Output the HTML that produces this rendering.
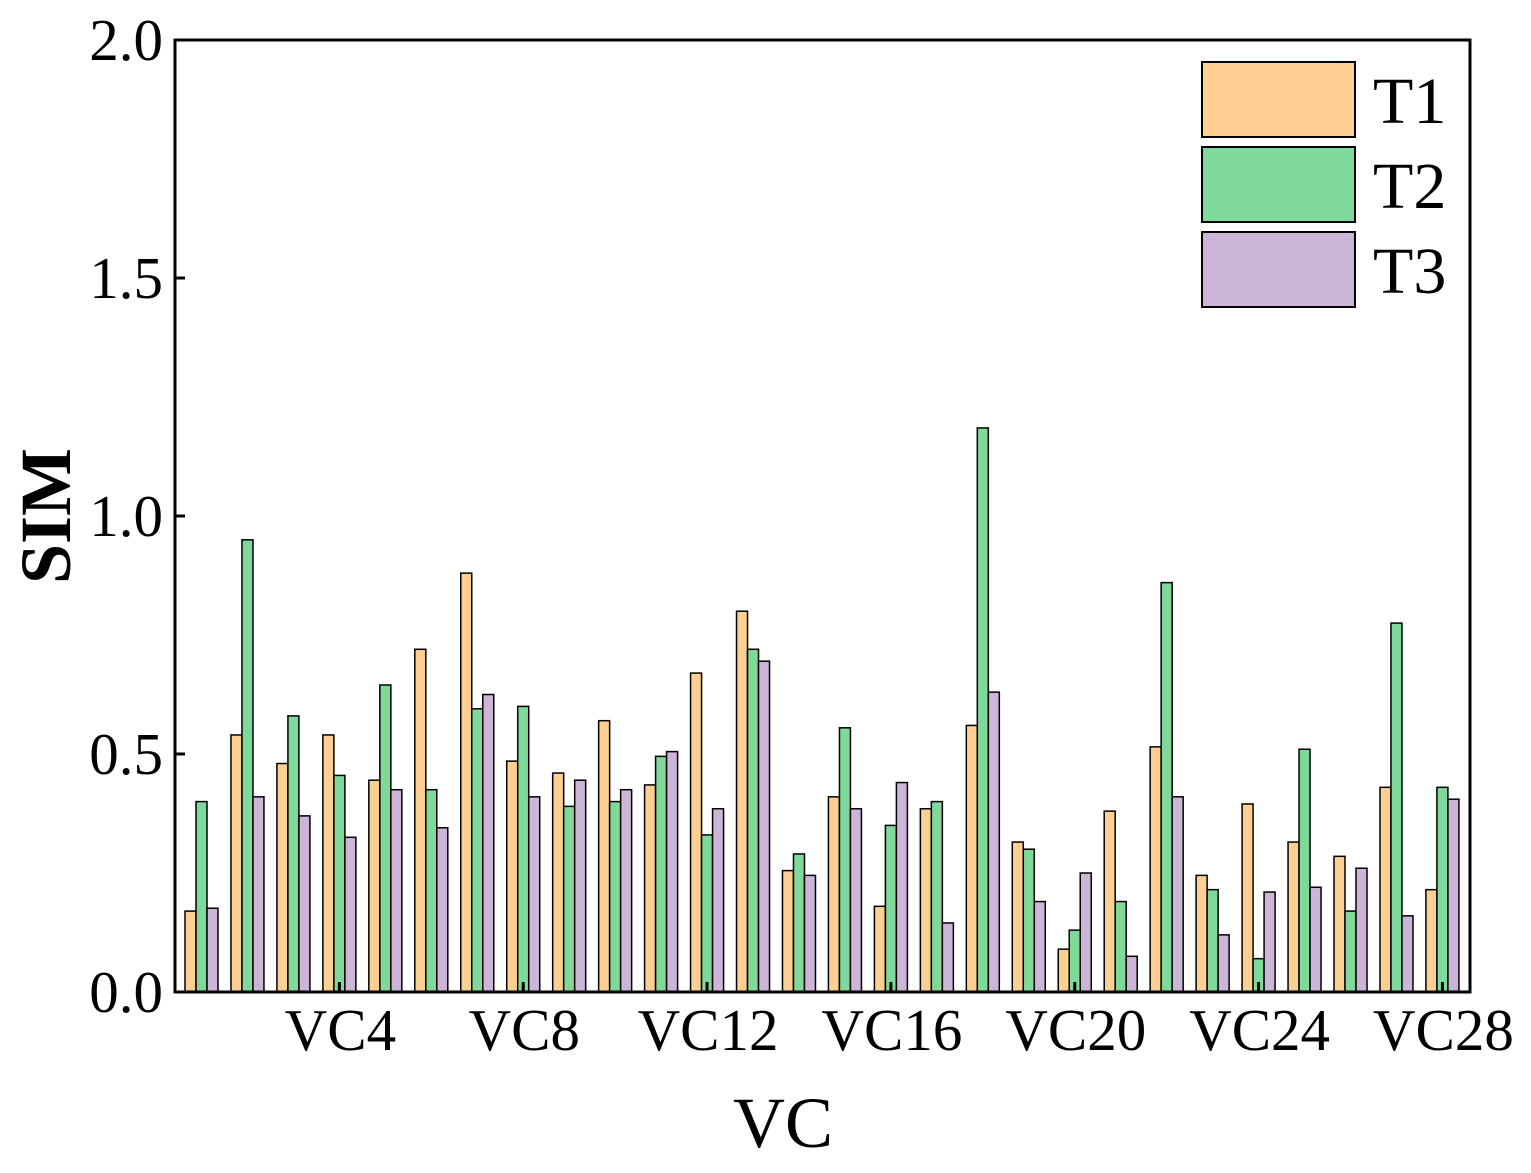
<!DOCTYPE html>
<html><head><meta charset="utf-8"><style>
body{margin:0;background:#fff}
svg text{font-family:"Liberation Serif",serif;fill:#000}
</style></head><body>
<svg id="chart" width="1531" height="1168" xmlns="http://www.w3.org/2000/svg">
<g id="bars"></g>
<g id="axes"></g>
<g id="legend"></g>
</svg>
<script>
const categories = Array.from({length:28},(_,i)=>'VC'+(i+1));
const t1 = [0.17,0.54,0.48,0.54,0.445,0.72,0.88,0.485,0.46,0.57,0.435,0.67,0.80,0.255,0.41,0.18,0.385,0.56,0.315,0.09,0.38,0.515,0.245,0.395,0.315,0.285,0.43,0.215];
const t2 = [0.40,0.95,0.58,0.455,0.645,0.425,0.595,0.60,0.39,0.40,0.495,0.33,0.72,0.29,0.555,0.35,0.40,1.185,0.30,0.13,0.19,0.86,0.215,0.07,0.51,0.17,0.775,0.43];
const t3 = [0.176,0.41,0.37,0.325,0.425,0.345,0.625,0.41,0.445,0.425,0.505,0.385,0.695,0.245,0.385,0.44,0.145,0.63,0.19,0.25,0.075,0.41,0.12,0.21,0.22,0.26,0.16,0.405];
const yTicks = [0,0.5,1.0,1.5,2.0];
const yTickLabels = ['0.0','0.5','1.0','1.5','2.0'];
const xTickLabels = ['VC4','VC8','VC12','VC16','VC20','VC24','VC28'];
const seriesNames = ['T1','T2','T3'];

const NS='http://www.w3.org/2000/svg';
const L=175,R=1470,T=40,B=992;
const colors=['#fecf92','#7fd99b','#cdb5d8'];
const band=45.96;
const bw=11, first=185;
const y=v=>B-(v/2.0)*(B-T);
const x=i=>first+i*band;
function mk(tag,attrs,parent){const e=document.createElementNS(NS,tag);for(const k in attrs)e.setAttribute(k,attrs[k]);parent.appendChild(e);return e;}
const bars=document.getElementById('bars');
[t1,t2,t3].forEach((s,si)=>{s.forEach((v,i)=>{
  const r=mk('rect',{x:x(i)+si*bw,y:y(v),width:bw,height:B-y(v),fill:colors[si],stroke:'#000','stroke-width':1.5},bars);
  
  
});});
const ax=document.getElementById('axes');
const frame=mk('rect',{x:L,y:T,width:R-L,height:B-T,fill:'none',stroke:'#000','stroke-width':3},ax);


yTicks.forEach((v,i)=>{
  mk('line',{x1:L,x2:L+10,y1:y(v),y2:y(v),stroke:'#000','stroke-width':3},ax);
  const t=mk('text',{x:L-12,y:y(v)+20,'text-anchor':'end','font-size':59},ax);
  t.textContent=yTickLabels[i];
  
  
});
xTickLabels.forEach(lab=>{
  const i=categories.indexOf(lab);
  const cx=x(i)+1.5*bw;
  mk('line',{x1:cx,x2:cx,y1:B,y2:B-10,stroke:'#000','stroke-width':3},ax);
  const t=mk('text',{x:cx+1,y:1050,'text-anchor':'middle','font-size':59},ax);
  t.textContent=lab;
  
  
});
const xt=mk('text',{x:783,y:1147,'text-anchor':'middle','font-size':72},ax);
xt.textContent='VC';


const yt=mk('text',{x:0,y:0,'text-anchor':'middle','font-size':72,'font-weight':'bold',transform:'translate(70,516) rotate(-90)'},ax);
yt.textContent='SIM';


const lg=document.getElementById('legend');
seriesNames.forEach((n,i)=>{
  const yy=62+i*85;
  const r=mk('rect',{x:1202,y:yy,width:153,height:75,fill:colors[i],stroke:'#000','stroke-width':2},lg);
  
  
  const t=mk('text',{x:1373,y:yy+61,'font-size':66},lg);
  t.textContent=n;
  
  
});
</script>
</body></html>
